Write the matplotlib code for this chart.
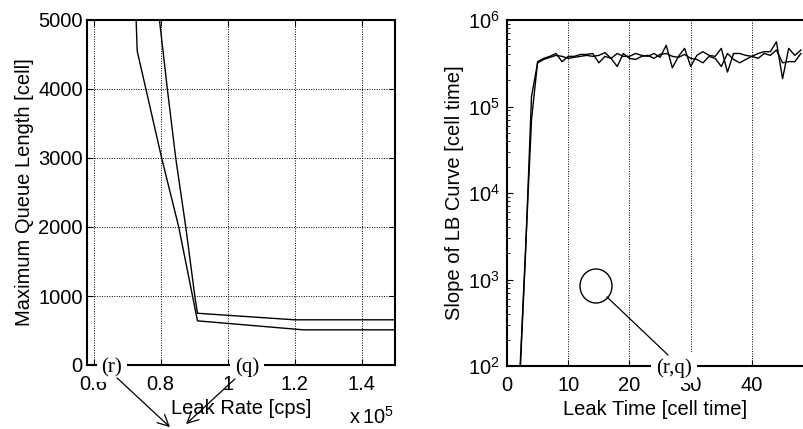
import matplotlib
matplotlib.use('Agg')
import matplotlib.pyplot as plt
import numpy as np
from matplotlib.patches import Ellipse

plt.rcParams['font.family'] = ['Liberation Sans', 'DejaVu Sans']
plt.rcParams['mathtext.fontset'] = 'custom'
plt.rcParams['mathtext.rm'] = 'Liberation Sans'
plt.rcParams['xtick.direction'] = 'in'
plt.rcParams['ytick.direction'] = 'in'

# left panel: max queue length vs leak rate (x 10^5 cps)
rate_a = [0.70, 0.73, 0.803, 0.854, 0.91, 1.225, 1.5]
queue_a = [8700, 4550, 3000, 2000, 640, 510, 510]
rate_b = [0.78, 0.82, 0.845, 0.875, 0.902, 0.91, 1.20, 1.5]
queue_b = [5700, 4000, 3000, 2000, 1000, 750, 655, 655]
rate_ticks = [0.6, 0.8, 1.0, 1.2, 1.4]
rate_labels = ['0.6', '0.8', '1', '1.2', '1.4']

# right panel: slope of LB curve vs leak time
leak_time = list(range(2, 49))
slope_1 = [60, 2000, 7.0e4, 3.3e5, 3.6e5, 3.8e5, 4.1e5, 3.3e5, 3.8e5, 3.8e5, 4.0e5,
           4.0e5, 4.1e5, 3.2e5, 3.8e5, 3.6e5, 4.1e5, 3.8e5, 3.8e5, 4.1e5, 3.9e5,
           3.8e5, 4.1e5, 3.7e5, 5.1e5, 2.8e5, 3.8e5, 4.7e5, 2.9e5, 3.9e5, 4.3e5,
           3.9e5, 3.8e5, 4.7e5, 2.5e5, 4.1e5, 4.1e5, 3.9e5, 3.8e5, 4.1e5, 4.3e5,
           4.3e5, 5.6e5, 2.1e5, 4.7e5, 3.9e5, 4.5e5]
slope_2 = [50, 1800, 1.3e5, 3.2e5, 3.5e5, 3.7e5, 3.9e5, 3.8e5, 3.6e5, 3.7e5, 3.8e5,
           3.9e5, 3.8e5, 3.9e5, 4.2e5, 3.6e5, 2.9e5, 4.1e5, 3.6e5, 3.5e5, 3.8e5,
           3.9e5, 3.6e5, 4.0e5, 4.1e5, 3.8e5, 3.7e5, 4.0e5, 3.6e5, 3.5e5, 3.2e5,
           3.8e5, 3.6e5, 2.9e5, 4.1e5, 3.5e5, 3.2e5, 3.5e5, 3.8e5, 3.6e5, 4.1e5,
           3.9e5, 4.5e5, 3.2e5, 3.3e5, 3.3e5, 4.1e5]

W, H = 804, 429
fig = plt.figure(figsize=(W / 100, H / 100), dpi=100)

def fx(px):
    return px / W

def fy(py):
    return 1 - py / H

FS = 14.5
grid_style = dict(color='black', linestyle=(0, (1, 1.5)), linewidth=0.7)

# ---- left plot ----
ax1 = fig.add_axes([fx(87), fy(365), fx(395 - 87), (365 - 20) / H])
ax1.plot(rate_a, queue_a, color='black', lw=1.0)
ax1.plot(rate_b, queue_b, color='black', lw=1.0)
ax1.set_xlim(0.58, 1.5)
ax1.set_ylim(0, 5000)
ax1.set_xticks(rate_ticks)
ax1.set_xticklabels(rate_labels)
ax1.set_yticks(np.arange(0, 5001, 1000))
ax1.grid(True, **grid_style)
ax1.tick_params(labelsize=FS, length=4, top=True, right=True)
ax1.tick_params(axis='x', pad=7)
ax1.tick_params(axis='y', pad=3)
ax1.set_ylabel('Maximum Queue Length [cell]', fontsize=FS, labelpad=3)
ax1.set_xlabel('Leak Rate [cps]', fontsize=FS, labelpad=4)
for s in ax1.spines.values():
    s.set_linewidth(1.5)
fig.text(fx(349), fy(417), r'x$\,10^{5}$', fontsize=FS, va='center', ha='left')

# ---- right plot ----
ax2 = fig.add_axes([fx(507), fy(366), 1 - fx(507), (366 - 20) / H])
ax2.semilogy(leak_time, slope_1, color='black', lw=1.0)
ax2.semilogy(leak_time, slope_2, color='black', lw=1.0)
ax2.set_xlim(0, 48.5)
ax2.set_ylim(1e2, 1e6)
ax2.set_xticks([0, 10, 20, 30, 40])
ax2.xaxis.grid(True, **grid_style)
ax2.tick_params(labelsize=FS, length=4)
ax2.tick_params(axis='x', pad=7)
ax2.tick_params(axis='y', pad=5)
ax2.tick_params(which='minor', length=2)
ax2.set_ylabel('Slope of LB Curve [cell time]', fontsize=FS, labelpad=3)
ax2.set_xlabel('Leak Time [cell time]', fontsize=FS, labelpad=4)
for s in ax2.spines.values():
    s.set_linewidth(1.5)
ax2.spines['right'].set_visible(False)

# ---- annotations ----
note_font = dict(family='Liberation Serif', fontsize=15)
box = dict(facecolor='white', edgecolor='none', pad=3.5)
fig.text(fx(112), fy(368), '(r)', ha='center', va='center', bbox=box, zorder=10, **note_font)
fig.text(fx(247), fy(367), '(q)', ha='center', va='center', bbox=box, zorder=10, **note_font)
arrow = dict(arrowstyle='->', color='black', lw=0.9, mutation_scale=20)
fig.add_artist(matplotlib.patches.FancyArrowPatch((fx(115), fy(376)), (fx(172), fy(429)),
               transform=fig.transFigure, zorder=11, **arrow))
fig.add_artist(matplotlib.patches.FancyArrowPatch((fx(237), fy(377)), (fx(184), fy(426)),
               transform=fig.transFigure, zorder=11, **arrow))

fig.text(fx(674), fy(368), '(r,q)', ha='center', va='center', bbox=box, zorder=10, **note_font)
fig.add_artist(Ellipse((fx(596), fy(286)), fx(32), 34 / H, transform=fig.transFigure,
                       facecolor='none', edgecolor='black', lw=1.0, zorder=11))
fig.add_artist(matplotlib.lines.Line2D([fx(607), fx(668)], [fy(297), fy(355)],
                                       transform=fig.transFigure, color='black', lw=0.9, zorder=11))

plt.savefig('out.png', dpi=100)
